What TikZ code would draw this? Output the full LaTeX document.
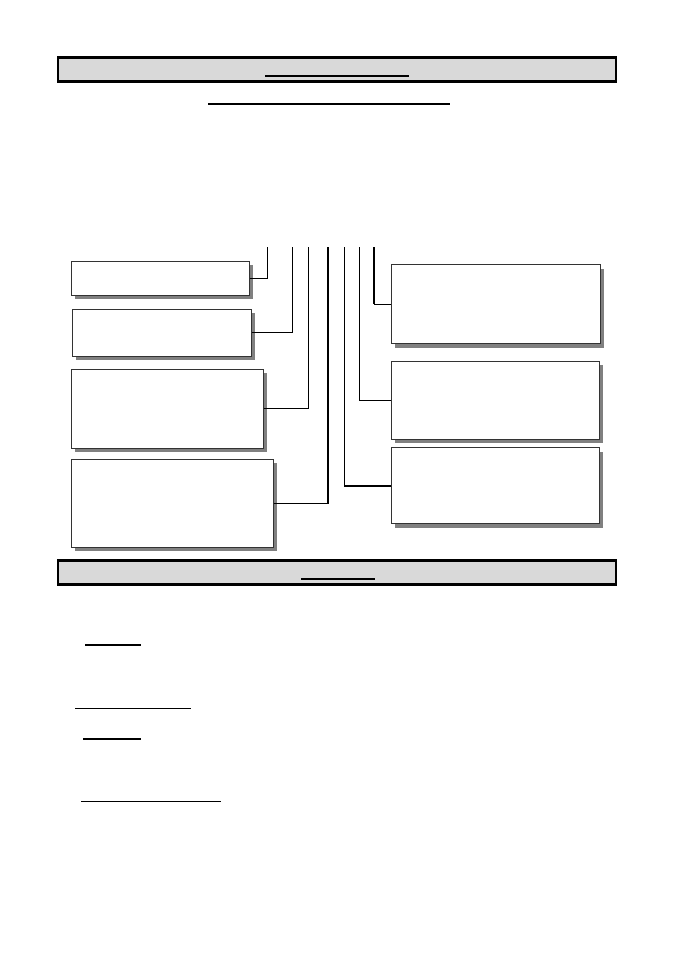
\documentclass[tikz,border=0pt]{standalone}
\usepackage{tikz}
\usetikzlibrary{positioning,shadows}
\usetikzlibrary{calc}

\begin{document}
\begin{tikzpicture}[x=1pt,y=-1pt,
                banner/.style={rectangle, draw=black, line width=2.5pt, fill=black!15, inner sep=0pt, minimum width=558pt, minimum height=24pt},
                infobox/.style={rectangle, draw=black!80, line width=1pt, fill=white, inner sep=0pt,
                    drop shadow={shadow xshift=4pt, shadow yshift=-4pt, fill=black!50, opacity=1}},
                link/.style={draw=black, line width=1pt},
                thicklink/.style={draw=black, line width=2pt},
                textrule/.style={draw=black, line width=1.2pt}]
            \useasboundingbox (0,0) rectangle (674,954);

            % headings
            \node[banner] (head) at (337,69.5) {};
            \node[banner] (foot) at (337,572.5) {};
            \draw[textrule] (265,76) -- (409,76);
            \draw[textrule] (208,104) -- (450,104);
            \draw[textrule, line width=2pt] (301,579) -- (375,579);

            % left boxes
            \node[infobox, minimum width=178pt, minimum height=34pt] (l1) at (160,278) {};
            \node[infobox, minimum width=179pt, minimum height=47pt] (l2) at (161.5,332.5) {};
            \node[infobox, minimum width=192pt, minimum height=79pt] (l3) at (167,408.5) {};
            \node[infobox, minimum width=202pt, minimum height=88pt] (l4) at (172,503) {};

            % right boxes
            \node[infobox, minimum width=209pt, minimum height=79pt] (r1) at (495.5,304) {};
            \node[infobox, minimum width=208pt, minimum height=78pt] (r2) at (495,400) {};
            \node[infobox, minimum width=208pt, minimum height=76pt] (r3) at (495,485.5) {};

            % tops of the lines
            \coordinate (t1) at (267,247);
            \coordinate (t2) at (292,247);
            \coordinate (t3) at (308.5,247);
            \coordinate (t4) at (328,247);
            \coordinate (t5) at (344,247);
            \coordinate (t6) at (359,247);
            \coordinate (t7) at (374,247);

            \draw[link] (l1.east) -| (t1);
            \draw[link] (l2.east) -| (t2);
            \draw[link] (l3.east) -| (t3);
            \draw[link] (l4.east) -| (t4);
            \draw[thicklink] (t4) -- (t4|-l4.east);
            \draw[link] (t5) |- (r3.west);
            \draw[thicklink] (t5|-r3.west) -- (r3.west);
            \draw[link] (t6) |- (r2.west);
            \draw[link] (t7) |- (r1.west);
            \draw[thicklink] (t7) -- (t7|-r1.west);

            % lines below
            \draw[textrule] (85,645) -- (141,645);
            \draw[textrule] (75,708.5) -- (191,708.5);
            \draw[textrule] (83,739) -- (141,739);
            \draw[textrule] (81,801.5) -- (221,801.5);
        \end{tikzpicture}
\end{document}
